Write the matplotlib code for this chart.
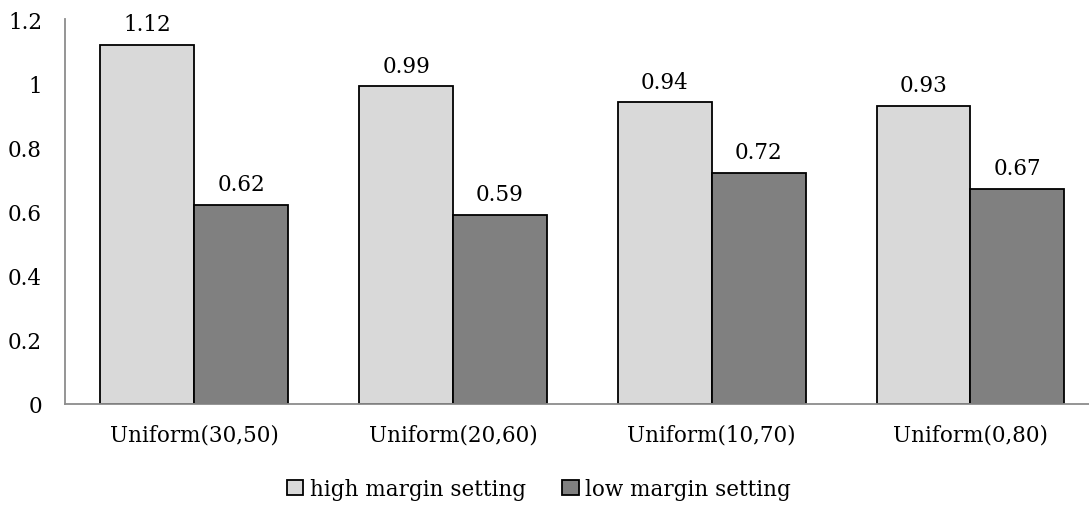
import numpy as np
import matplotlib
matplotlib.use("Agg")
import matplotlib.pyplot as plt

# --- DATA ---
categories = ["Uniform(30,50)", "Uniform(20,60)", "Uniform(10,70)", "Uniform(0,80)"]
high_margin = [1.12, 0.99, 0.94, 0.93]
low_margin = [0.62, 0.59, 0.72, 0.67]
series_names = ["high margin setting", "low margin setting"]
y_ticks = [0, 0.2, 0.4, 0.6, 0.8, 1, 1.2]
y_tick_labels = ["0", "0.2", "0.4", "0.6", "0.8", "1", "1.2"]

plt.rcParams['font.family'] = ['DejaVu Serif']
fs = 15.5

fig = plt.figure(figsize=(10.89, 5.10), dpi=100)
# axis runs off the right edge of the figure in the original
ax = fig.add_axes([65 / 1089, 105 / 510, 1024 / 1089, 385 / 510])

x = np.arange(len(categories))
w = 0.363
b1 = ax.bar(x - w / 2, high_margin, w, color='#d9d9d9', edgecolor='black', linewidth=1.3, label=series_names[0])
b2 = ax.bar(x + w / 2, low_margin, w, color='#808080', edgecolor='black', linewidth=1.3, label=series_names[1])

for bars, vals in [(b1, high_margin), (b2, low_margin)]:
    for rect, v in zip(bars, vals):
        ax.annotate(f"{v:.2f}", (rect.get_x() + rect.get_width() / 2, v),
                    xytext=(0, 7), textcoords='offset points',
                    ha='center', va='bottom', fontsize=fs)

ax.set_xlim(-0.5, -0.5 + 1024 / 258.7)
ax.set_ylim(0, 1.2)
ax.set_yticks(y_ticks)
ax.set_yticklabels(y_tick_labels, fontsize=fs)
ax.set_xticks(x)
ax.set_xticklabels(categories, fontsize=fs)
ax.tick_params(axis='both', length=0)
ax.tick_params(axis='y', pad=16.5)
ax.tick_params(axis='x', pad=14)

for s in ['top', 'right']:
    ax.spines[s].set_visible(False)
for s in ['left', 'bottom']:
    ax.spines[s].set_color('#8c8c8c')
    ax.spines[s].set_linewidth(1.3)

leg = ax.legend(loc='upper center', bbox_to_anchor=(474 / 1024, -0.17), ncol=2, frameon=False,
                fontsize=fs, handlelength=0.75, handleheight=0.75, handletextpad=0.3,
                columnspacing=1.7, borderaxespad=0)

fig.savefig("out.png", dpi=100)
